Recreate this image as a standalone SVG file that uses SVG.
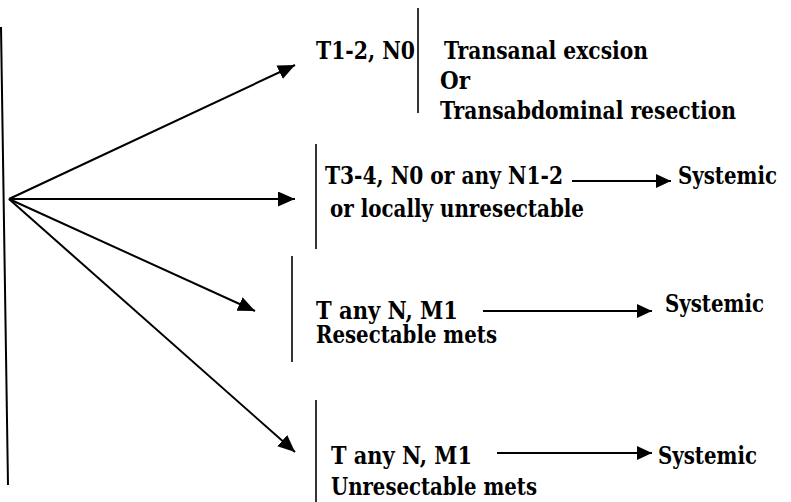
<svg xmlns="http://www.w3.org/2000/svg" width="791" height="502" viewBox="0 0 791 502">
<style>
.t{font-family:'DejaVu Serif','Liberation Serif',serif;font-weight:700;font-size:24px;fill:#000}
.ln{stroke:#000;stroke-width:2;fill:none}
.bar{stroke:#000;stroke-width:1.6;fill:none}
.arr{stroke:#000;stroke-width:2;fill:none;marker-end:url(#ah)}
.sarr{stroke:#000;stroke-width:2;fill:none;marker-end:url(#ahs)}
</style>
<defs>
<marker id="ah" markerUnits="userSpaceOnUse" markerWidth="18" markerHeight="15" refX="17" refY="7.5" orient="auto" viewBox="0 0 18 15"><path d="M0,0 L17,7.5 L0,15 z" fill="#000"/></marker>
<marker id="ahs" markerUnits="userSpaceOnUse" markerWidth="16" markerHeight="14" refX="15" refY="7" orient="auto" viewBox="0 0 16 14"><path d="M0,0 L15,7 L0,14 z" fill="#000"/></marker>
</defs>
<rect width="791" height="502" fill="#fff"/>
<g id="connectors">
<line class="ln" x1="1" y1="27" x2="8" y2="485"/>
<line class="arr" x1="9" y1="199" x2="295" y2="65"/>
<line class="arr" x1="9" y1="199" x2="295" y2="199"/>
<line class="arr" x1="9" y1="199" x2="255" y2="311"/>
<line class="arr" x1="9" y1="199" x2="295" y2="452"/>
<line class="sarr" x1="572" y1="181" x2="671" y2="181"/>
<line class="sarr" x1="483" y1="311" x2="652" y2="311"/>
<line class="sarr" x1="497" y1="453" x2="652" y2="453"/>
</g>
<g id="node1" class="t">
<line class="bar" x1="418" y1="8" x2="418" y2="113"/>
<text x="316" y="59" textLength="99" lengthAdjust="spacingAndGlyphs">T1-2, N0</text>
<text x="444" y="59" textLength="204" lengthAdjust="spacingAndGlyphs">Transanal excsion</text>
<text x="440" y="89" textLength="30" lengthAdjust="spacingAndGlyphs">Or</text>
<text x="440" y="119" textLength="296" lengthAdjust="spacingAndGlyphs">Transabdominal resection</text>
</g>
<g id="node2" class="t">
<line class="bar" x1="316" y1="144" x2="316" y2="249"/>
<text x="325" y="184" textLength="238" lengthAdjust="spacingAndGlyphs">T3-4, N0 or any N1-2</text>
<text x="330" y="217" textLength="254" lengthAdjust="spacingAndGlyphs">or locally unresectable</text>
</g>
<g id="node2b" class="t"><text x="678" y="184" textLength="99" lengthAdjust="spacingAndGlyphs">Systemic</text></g>
<g id="node3" class="t">
<line class="bar" x1="292" y1="256" x2="292" y2="362"/>
<text x="316" y="319" textLength="142" lengthAdjust="spacingAndGlyphs">T any N, M1</text>
<text x="316" y="343" textLength="181" lengthAdjust="spacingAndGlyphs">Resectable mets</text>
</g>
<g id="node3b" class="t"><text x="665" y="312" textLength="99" lengthAdjust="spacingAndGlyphs">Systemic</text></g>
<g id="node4" class="t">
<line class="bar" x1="316" y1="400" x2="316" y2="502"/>
<text x="331" y="464" textLength="141" lengthAdjust="spacingAndGlyphs">T any N, M1</text>
<text x="331" y="495" textLength="206" lengthAdjust="spacingAndGlyphs">Unresectable mets</text>
</g>
<g id="node4b" class="t"><text x="658" y="464" textLength="99" lengthAdjust="spacingAndGlyphs">Systemic</text></g>
</svg>
